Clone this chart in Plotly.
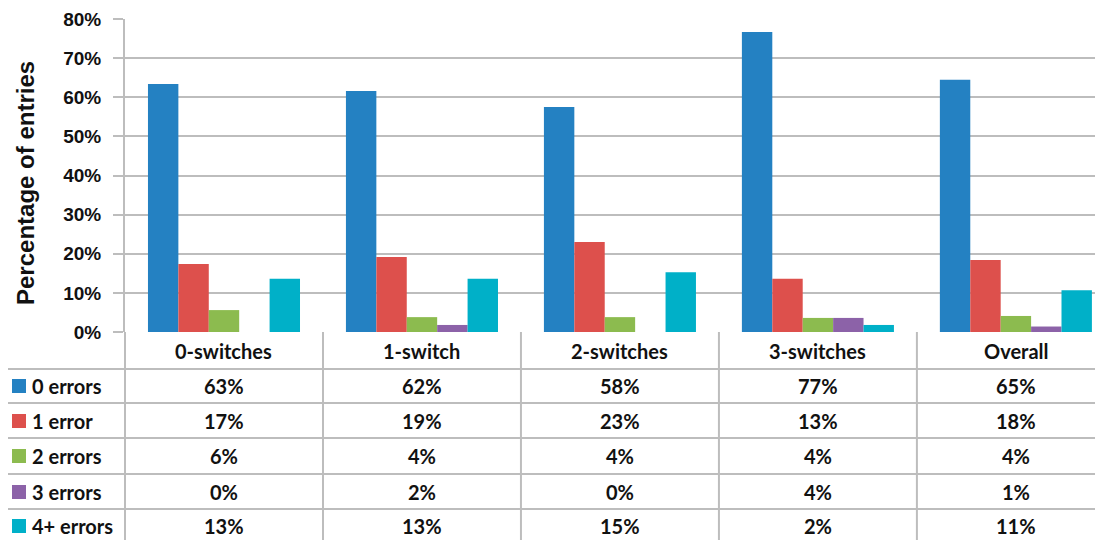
import plotly.graph_objects as go

categories = ["0-switches", "1-switch", "2-switches", "3-switches", "Overall"]
series_names = ["0 errors", "1 error", "2 errors", "3 errors", "4+ errors"]
colors = ["#2481c2", "#dd504c", "#8cbb4f", "#8c62a8", "#00b0c8"]

# bar heights (fraction)
v0 = [0.634, 0.616, 0.575, 0.767, 0.645]
v1 = [0.174, 0.192, 0.230, 0.136, 0.184]
v2 = [0.056, 0.038, 0.038, 0.036, 0.041]
v3 = [0.000, 0.018, 0.000, 0.036, 0.014]
v4 = [0.136, 0.136, 0.153, 0.018, 0.107]
values = [v0, v1, v2, v3, v4]

# data table labels (as printed)
t0 = ["63%", "62%", "58%", "77%", "65%"]
t1 = ["17%", "19%", "23%", "13%", "18%"]
t2 = ["6%", "4%", "4%", "4%", "4%"]
t3 = ["0%", "2%", "0%", "4%", "1%"]
t4 = ["13%", "13%", "15%", "2%", "11%"]
table_text = [t0, t1, t2, t3, t4]

ytick_vals = [0, 0.1, 0.2, 0.3, 0.4, 0.5, 0.6, 0.7, 0.8]
ytick_text = ["0%", "10%", "20%", "30%", "40%", "50%", "60%", "70%", "80%"]

# page has an 8px body margin: figure occupies window pixels 8..1103 x 8..540
OFF = 8
WW, WH = 1103, 540
W, H = WW - OFF, WH - OFF
def py(p):  # window pixel y -> paper y
    return (WH - p) / H
def px_(x):  # window pixel x -> paper x
    return (x - OFF) / W

GRID = "#bdbdbd"
TXT = "#111111"
TFONT = "Lato"
TSIZE = 20

fig = go.Figure()
for name, vals, c in zip(series_names, values, colors):
    fig.add_trace(go.Bar(x=categories, y=vals, name=name, marker=dict(color=c, line=dict(width=0)),
                         showlegend=False))

fig.update_layout(
    width=W, height=H,
    margin=dict(l=0, r=0, t=0, b=0),
    paper_bgcolor="white", plot_bgcolor="white",
    barmode="group", bargap=0.232, bargroupgap=0,
    xaxis=dict(domain=[px_(125), 1], range=[-0.5, 4.44], showticklabels=False, automargin=False,
               showgrid=False, zeroline=False, showline=False, ticks=""),
    yaxis=dict(domain=[py(332), py(19)], range=[0, 0.8], tickvals=ytick_vals, ticktext=ytick_text,
               automargin=False, ticklabelstandoff=8,
               showgrid=True, gridcolor=GRID, gridwidth=2, zeroline=False,
               ticks="outside", ticklen=10, tickcolor=GRID, tickwidth=2,
               showline=True, linecolor=GRID, linewidth=2,
               tickfont=dict(family="Liberation Sans", size=19, color=TXT, weight="bold")),
    font=dict(family="Liberation Sans"),
)

shapes = []
line = dict(color=GRID, width=2)
shapes.append(dict(type="line", xref="paper", yref="paper", x0=px_(125), x1=px_(125),
                   y0=py(332), y1=0, line=line))
for i in range(len(categories) - 1):
    shapes.append(dict(type="line", xref="x", yref="paper", x0=i + 0.5, x1=i + 0.5,
                       y0=py(332), y1=0, line=line))
row_lines = [369, 403, 438, 474, 509]
for r in row_lines:
    shapes.append(dict(type="line", xref="paper", yref="paper", x0=px_(5), x1=1,
                       y0=py(r), y1=py(r), line=line))
shapes.append(dict(type="line", xref="paper", yref="paper", x0=px_(5), x1=px_(5),
                   y0=py(369), y1=0, line=line))

row_centers = [386, 421, 456, 492, 526]
annotations = []
annotations.append(dict(text="<b>Percentage of entries</b>", xref="paper", yref="paper",
                        x=px_(25), y=py(183), textangle=-90, xanchor="center", yanchor="middle",
                        showarrow=False, font=dict(family="Liberation Sans", size=24, color=TXT)))
for name, c, yc in zip(series_names, colors, row_centers):
    shapes.append(dict(type="rect", xref="paper", yref="paper", x0=px_(12), x1=px_(26),
                       y0=py(yc + 7), y1=py(yc - 7), fillcolor=c, line=dict(width=0)))
    annotations.append(dict(text="<b>%s</b>" % name, xref="paper", yref="paper", x=px_(30), y=py(yc),
                            xanchor="left", yanchor="middle", showarrow=False,
                            font=dict(family=TFONT, size=TSIZE, color=TXT)))
for cat in categories:
    annotations.append(dict(text="<b>%s</b>" % cat, xref="x", yref="paper", x=cat, y=py(351),
                            xanchor="center", yanchor="middle", showarrow=False,
                            font=dict(family=TFONT, size=TSIZE, color=TXT)))
for texts, yc in zip(table_text, row_centers):
    for cat, t in zip(categories, texts):
        annotations.append(dict(text="<b>%s</b>" % t, xref="x", yref="paper", x=cat, y=py(yc),
                                xanchor="center", yanchor="middle", showarrow=False,
                                font=dict(family=TFONT, size=TSIZE, color=TXT)))

fig.update_layout(shapes=shapes, annotations=annotations)
fig.write_html("out.html")
